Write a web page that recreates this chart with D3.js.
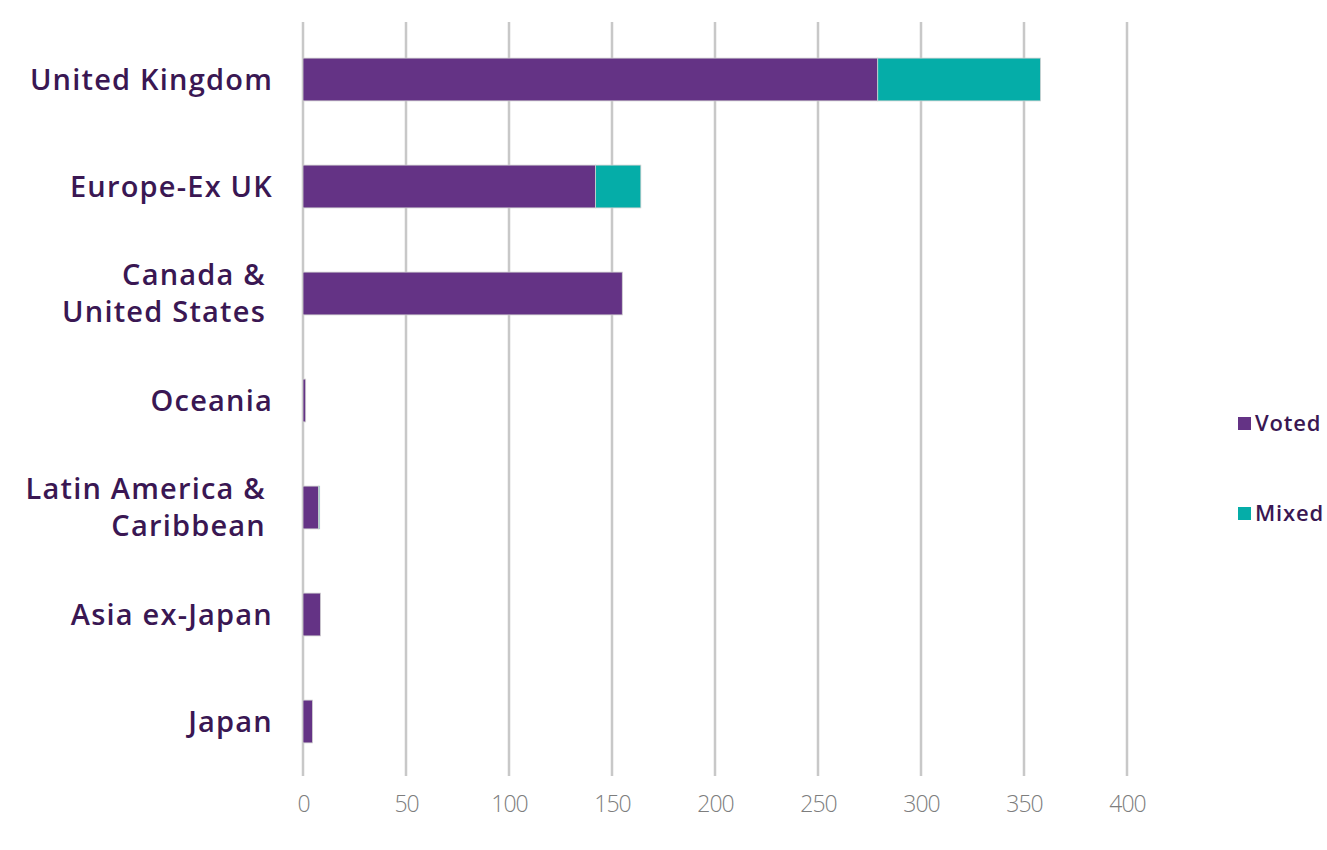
<!DOCTYPE html>
<html>
<head>
<meta charset="utf-8">
<script src="https://cdn.jsdelivr.net/npm/d3@7"></script>
<style>
  body { margin: 0; background: #fff; }
</style>
</head>
<body>
<svg id="chart"></svg>
<script>
// Chart size matches the browser window
const width = 1327;
const height = 850;

// Data
const categories = [
    ["United Kingdom"],
    ["Europe-Ex UK"],
    ["Canada &", "United States"],
    ["Oceania"],
    ["Latin America &", "Caribbean"],
    ["Asia ex-Japan"],
    ["Japan"]
];
const voted = [279, 142, 155, 1.3, 7.6, 8.5, 4.6];
const mixed = [79, 22, 0, 0, 0.5, 0, 0];
const seriesNames = ["Voted", "Mixed"];
const colors = ["#643385", "#05ada8"];
const ticks = [0, 50, 100, 150, 200, 250, 300, 350, 400];

const svg = d3.select("#chart")
    .attr("width", width)
    .attr("height", height);

const x = d3.scaleLinear().domain([0, 400]).range([303, 1127]);
const y = d3.scaleBand()
    .domain(categories.map((d, i) => i))
    .range([26, 775])
    .paddingInner(0.6)
    .paddingOuter(0.3);

// gridlines
svg.selectAll("line.grid")
    .data(ticks)
    .enter()
    .append("line")
    .attr("class", "grid")
    .attr("x1", d => x(d))
    .attr("x2", d => x(d))
    .attr("y1", 22)
    .attr("y2", 776)
    .attr("stroke", "#c8c8c8")
    .attr("stroke-width", 2.5);

// x axis tick labels
const xAxis = d3.axisBottom(x).tickValues(ticks).tickSize(0).tickPadding(0);
const gx = svg.append("g")
    .attr("transform", "translate(0,796)")
    .call(xAxis);
gx.select(".domain").remove();
gx.selectAll("text")
    .attr("font-family", "'Open Sans', sans-serif")
    .attr("font-size", 23)
    .attr("font-weight", 300)
    .attr("letter-spacing", -1)
    .attr("fill", "#7d7d7d");

// stacked bars
const stackData = categories.map((c, i) => ({ key: i, Voted: voted[i], Mixed: mixed[i] }));
const stacked = d3.stack().keys(seriesNames)(stackData);

svg.selectAll("g.series")
    .data(stacked)
    .enter()
    .append("g")
    .attr("class", "series")
    .attr("fill", (d, i) => colors[i])
    .selectAll("rect")
    .data(d => d)
    .enter()
    .append("rect")
    .attr("x", d => x(d[0]))
    .attr("y", d => y(d.data.key))
    .attr("width", d => Math.max(0, x(d[1]) - x(d[0])))
    .attr("height", y.bandwidth())
    .attr("stroke", d => (d[1] - d[0]) > 0 ? "#d0d0d0" : "none")
    .attr("stroke-width", 0.8);

// category labels
const labels = svg.selectAll("text.cat")
    .data(categories)
    .enter()
    .append("text")
    .attr("class", "cat")
    .attr("text-anchor", "end")
    .attr("font-family", "'Open Sans', sans-serif")
    .attr("font-size", 29)
    .attr("font-weight", 600)
    .attr("letter-spacing", 1.2)
    .attr("fill", "#3a1753")
    .attr("transform", (d, i) => {
        const cy = y(i) + y.bandwidth() / 2;
        const off = d.length === 1 ? 10 : -9;
        const xr = d.length === 1 ? 273 : 266;
        return `translate(${xr},${cy + off})`;
    });
labels.selectAll("tspan")
    .data(d => d)
    .enter()
    .append("tspan")
    .attr("x", 0)
    .attr("dy", (d, i) => i === 0 ? 0 : 37)
    .text(d => d);

// legend
const legend = svg.selectAll("g.legend")
    .data(seriesNames)
    .enter()
    .append("g")
    .attr("class", "legend")
    .attr("transform", (d, i) => `translate(1238,${423 + i * 90})`);
legend.append("rect")
    .attr("x", 0)
    .attr("y", -6)
    .attr("width", 13)
    .attr("height", 13)
    .attr("fill", (d, i) => colors[i]);
legend.append("text")
    .attr("x", 17)
    .attr("y", 8)
    .attr("font-family", "'Open Sans', sans-serif")
    .attr("font-size", 22)
    .attr("font-weight", 600)
    .attr("letter-spacing", 0.8)
    .attr("fill", "#3a1753")
    .text(d => d);
</script>
</body>
</html>
